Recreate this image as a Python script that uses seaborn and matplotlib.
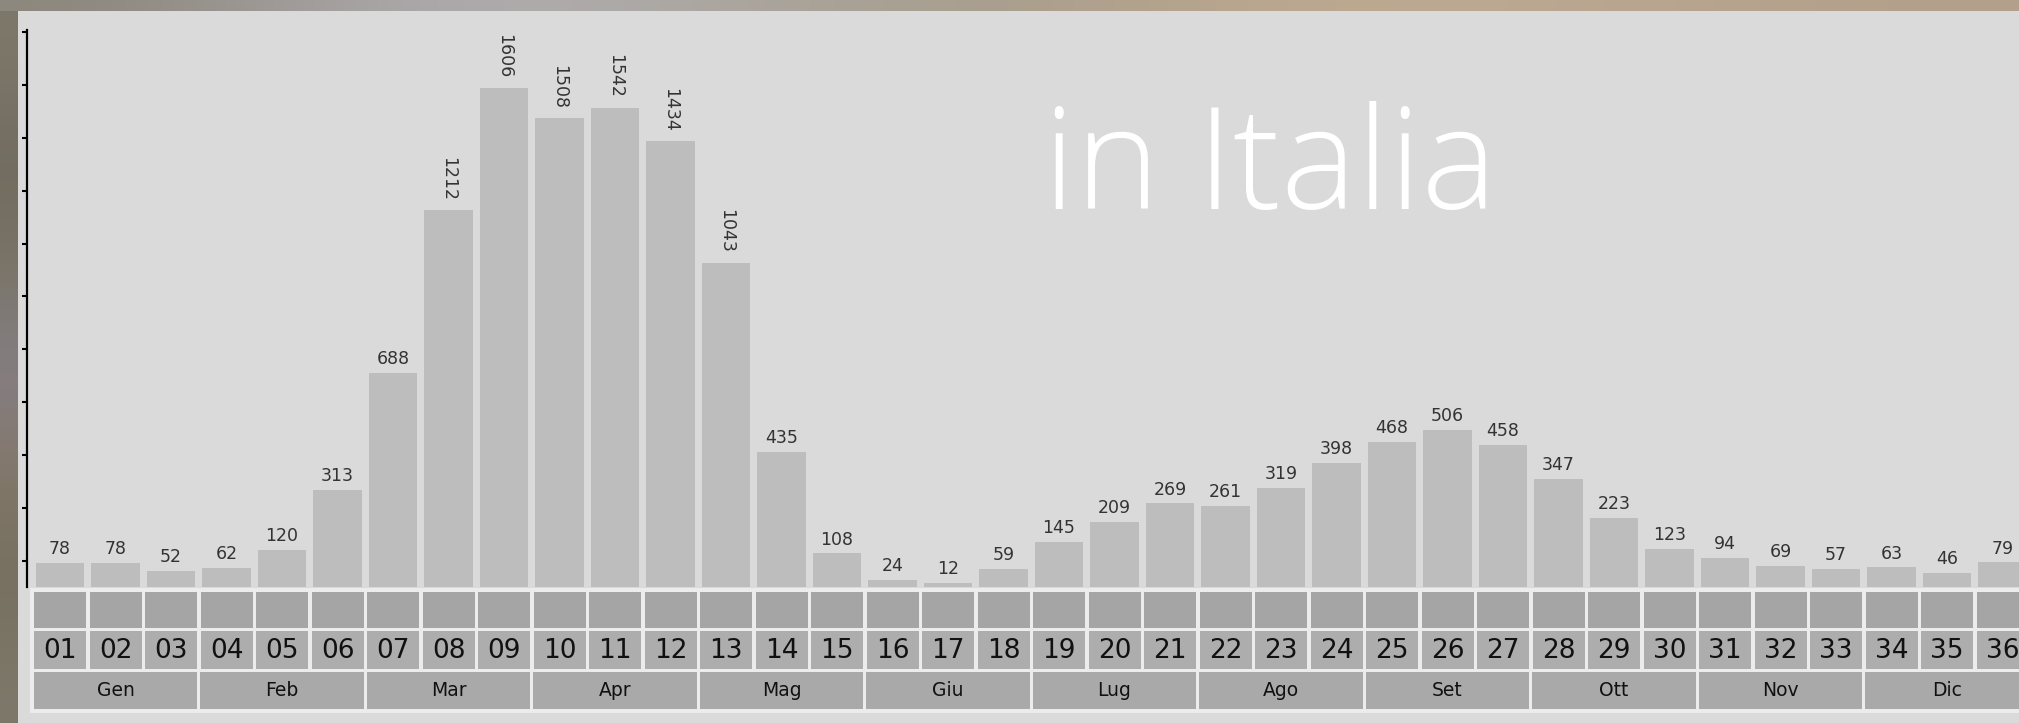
import numpy as np
import matplotlib
matplotlib.use("Agg")
import matplotlib.pyplot as plt
from matplotlib.patches import Rectangle
from matplotlib.ticker import MultipleLocator
from matplotlib.colors import to_rgb
import seaborn as sns

sns.set_style("white")
plt.rcParams['font.family'] = ['DejaVu Sans']

# data
weeks = ['%02d' % i for i in range(1, 37)]
values = [78, 78, 52, 62, 120, 313, 688, 1212, 1606, 1508, 1542, 1434,
          1043, 435, 108, 24, 12, 59, 145, 209, 269, 261, 319, 398,
          468, 506, 458, 347, 223, 123, 94, 69, 57, 63, 46, 79]
months = ['Gen', 'Feb', 'Mar', 'Apr', 'Mag', 'Giu',
          'Lug', 'Ago', 'Set', 'Ott', 'Nov', 'Dic']
title = 'in Italia'

# background photo strip colours (decoration)
top_strip = ['#8c877c', '#b4b0b6', '#aaa69f', '#a69c8a', '#c0aa90', '#bba791', '#b2a08c']
left_strip = ['#7e786a', '#6e6a5e', '#7a7464', '#86808a', '#847868', '#746e5e', '#7e786a']

W, H = 2019, 723
fig = plt.figure(figsize=(W / 100, H / 100), dpi=100)
fig.patch.set_facecolor('#8a8376')

def fx(px):
    return px / W

def fy(py):
    return 1 - py / H

# photo strips
bg = fig.add_axes([0, 0, 1, 1], zorder=-5)
bg.axis('off')
top = np.array([to_rgb(c) for c in top_strip])[None, :, :]
bg.imshow(top, extent=(0, W, H - 11, H), aspect='auto', interpolation='bicubic')
left = np.array([to_rgb(c) for c in left_strip])[:, None, :]
bg.imshow(left, extent=(0, 18, 0, H - 11), aspect='auto', interpolation='bicubic')
bg.set_xlim(0, W)
bg.set_ylim(0, H)

# grey panel
fig.add_artist(Rectangle((fx(18), 0), 1, fy(11), transform=fig.transFigure,
                         facecolor='#dadada', edgecolor='none', zorder=-4))

pitch = 55.5
x_left = -(60 - 27) / pitch
x_right = x_left + (W - 27) / pitch
ymax = (587 - 30) / 0.3107

ax = fig.add_axes([fx(27), fy(587), 1 - fx(27), fy(30) - fy(587)])
ax.set_facecolor('none')
sns.barplot(x=weeks, y=values, color='#bdbdbd', saturation=1, width=0.865,
            edgecolor='none', linewidth=0, ax=ax, zorder=2)
ax.set_xlim(x_left, x_right)
ax.set_ylim(0, ymax)
for s in ['top', 'right', 'bottom']:
    ax.spines[s].set_visible(False)
ax.spines['left'].set_color('black')
ax.spines['left'].set_linewidth(1.6)
ax.yaxis.set_major_locator(MultipleLocator(170))
ax.yaxis.set_minor_locator(MultipleLocator(85))
ax.tick_params(axis='y', which='major', direction='out', length=6.5, width=1.5,
               color='black', labelleft=False)
ax.tick_params(axis='y', which='minor', direction='out', length=3.5, width=1.5,
               color='black', left=True)
ax.tick_params(axis='x', bottom=False, labelbottom=False)
ax.set_xlabel('')
ax.set_ylabel('')

for i, v in enumerate(values):
    if v >= 1000:
        ax.annotate(str(v), (i, v), xytext=(0, 7), textcoords='offset points',
                    rotation=-90, ha='center', va='bottom', fontsize=12.5,
                    color='#333333')
    else:
        ax.annotate(str(v), (i, v), xytext=(0, 3.5), textcoords='offset points',
                    ha='center', va='bottom', fontsize=12.5, color='#333333')

# table rows under the bars (y in pixels from the top)
tb = fig.add_axes([fx(27), 0, 1 - fx(27), fy(587)])
tb.axis('off')
tb.set_xlim(x_left, x_right)
tb.set_ylim(H, 587)
xs = np.arange(len(weeks))
cell_w = 52 / pitch
tb.add_patch(Rectangle((-0.5 - 2 / pitch, 588), 40, 125, facecolor='#ececec',
                       edgecolor='none'))
tb.bar(xs, 36, bottom=592, width=cell_w, color='#a5a5a5', linewidth=0)
tb.bar(xs, 38, bottom=631, width=cell_w, color='#adadad', linewidth=0)
mx = np.arange(len(months)) * 3 + 1
tb.bar(mx, 37, bottom=672, width=3 - 3 / pitch, color='#a9a9a9', linewidth=0)
for i, w in enumerate(weeks):
    tb.text(i, 651, w, ha='center', va='center', fontsize=19, color='#111111')
for m, name in zip(mx, months):
    tb.text(m, 691, name, ha='center', va='center', fontsize=13.5, color='#111111')

fig.text(fx(1043), fy(209), title, ha='left', va='baseline', color='white',
         fontsize=103, fontfamily=['Open Sans', 'DejaVu Sans'], fontweight='light')

fig.savefig('out.png', dpi=100, facecolor=fig.get_facecolor())
